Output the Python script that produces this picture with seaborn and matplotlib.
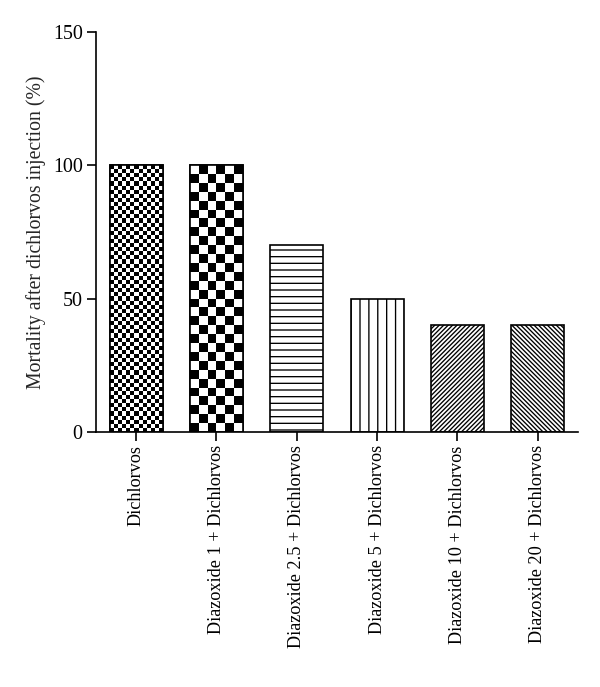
import numpy as np
import matplotlib
matplotlib.use("Agg")
import matplotlib.pyplot as plt
from matplotlib.patches import Rectangle
import seaborn as sns

categories = ["Dichlorvos", "Diazoxide 1 + Dichlorvos", "Diazoxide 2.5 + Dichlorvos",
              "Diazoxide 5 + Dichlorvos", "Diazoxide 10 + Dichlorvos", "Diazoxide 20 + Dichlorvos"]
mortality = [100, 100, 70, 50, 40, 40]
yticks = [0, 50, 100, 150]

sns.set_style("ticks")
plt.rcParams['font.family'] = ['Liberation Serif', 'DejaVu Serif']
plt.rcParams['hatch.linewidth'] = 0.6
plt.rcParams['hatch.color'] = 'black'

DPI = 160
LW = 0.75
fig = plt.figure(figsize=(600 / DPI, 687 / DPI), dpi=DPI)
ax = fig.add_axes([0.16, 0.3712, 0.803, 0.5822])

sns.barplot(x=categories, y=mortality, color="white", edgecolor="black",
            linewidth=LW, width=0.66, ax=ax, saturation=1)

ax.set_ylim(0, 150)
ax.set_yticks(yticks)
ax.set_xlim(-0.5, 5.5)
fig.canvas.draw()

bars = ax.patches[:len(categories)]
hatches = [None, None, "----", "|||", "/" * 12, "\\" * 12]
checker_cells = [13, 6, None, None, None, None]
for bar, h, nx in zip(bars, hatches, checker_cells):
    bar.set_facecolor("white")
    bar.set_edgecolor("black")
    if h:
        bar.set_hatch(h)
    if nx:
        x0, y0 = bar.get_x(), bar.get_y()
        w, hh = bar.get_width(), bar.get_height()
        p0 = ax.transData.transform((x0, y0))
        p1 = ax.transData.transform((x0 + w, y0 + hh))
        pw, ph = p1[0] - p0[0], p1[1] - p0[1]
        ny = max(1, int(round(ph / (pw / nx))))
        ii, jj = np.indices((ny, nx))
        img = (ii + jj) % 2
        im = ax.imshow(img, cmap="gray", extent=(x0, x0 + w, y0, y0 + hh),
                       aspect="auto", interpolation="nearest", origin="lower",
                       zorder=bar.get_zorder() + 0.1, vmin=0, vmax=1)
        im.set_clip_path(bar)
        ax.add_patch(Rectangle((x0, y0), w, hh, fill=False, edgecolor="black",
                               linewidth=LW, zorder=bar.get_zorder() + 0.2))

ax.set_xlim(-0.5, 5.5)
ax.set_ylim(0, 150)

sns.despine(ax=ax)
for s in ["left", "bottom"]:
    ax.spines[s].set_linewidth(LW)
    ax.spines[s].set_color("black")
ax.tick_params(axis="both", direction="out", length=4, width=LW, colors="black", pad=2)
ax.tick_params(axis="x", labelsize=8.2)
ax.tick_params(axis="y", labelsize=9)
ax.set_xticks(range(len(categories)))
ax.set_xticklabels(categories, rotation=90)
ax.set_xlabel("")
ax.set_ylabel("Mortality after dichlorvos injection (%)", fontsize=8.9, labelpad=3)

fig.savefig("out.png", dpi=DPI)
